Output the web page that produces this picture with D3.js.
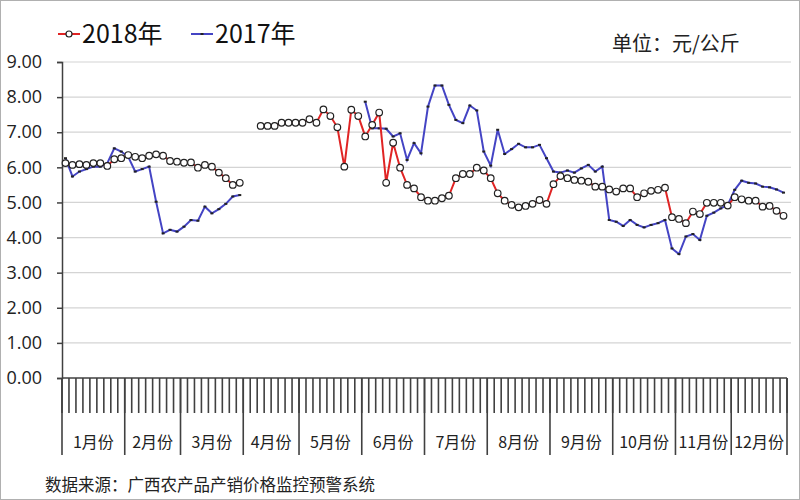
<!DOCTYPE html>
<html>
<head>
<meta charset="utf-8">
<script src="https://cdn.jsdelivr.net/npm/d3@7"></script>
<style>
  body { margin: 0; background: #fff; }
  svg { display: block; font-family: "Noto Sans CJK SC", "Noto Sans", sans-serif; }
</style>
</head>
<body>
<div id="chart"></div>
<script>
// month labels and how many categories each month has
const months = ['1月份', '2月份', '3月份', '4月份', '5月份', '6月份', '7月份', '8月份', '9月份', '10月份', '11月份', '12月份'];
const monthCounts = [9, 8, 9, 8, 9, 9, 9, 9, 9, 9, 8, 8];

const yTicks = [0, 1, 2, 3, 4, 5, 6, 7, 8, 9];

// 2018 series (null = no data)
const price2018 = [
  6.12, 6.07, 6.09, 6.07, 6.12, 6.12, 6.04, 6.23, 6.26, 6.35, 6.30, 6.26, 6.33, 6.37, 6.33, 6.18,
  6.16, 6.13, 6.14, 5.99, 6.07, 6.02, 5.85, 5.69, 5.50, 5.56,
  null, null,
  7.18, 7.18, 7.18, 7.27, 7.27, 7.27, 7.27, 7.37, 7.27, 7.65, 7.46, 7.14, 6.02, 7.64, 7.46, 6.88,
  7.21, 7.56, 5.56, 6.70, 5.99, 5.50, 5.40, 5.15, 5.05, 5.05, 5.12, 5.19, 5.69, 5.81, 5.81, 5.99,
  5.91, 5.69, 5.26, 5.05, 4.93, 4.86, 4.90, 4.96, 5.07,
  4.96, 5.52, 5.75, 5.69, 5.64, 5.62, 5.59, 5.45, 5.45, 5.37, 5.31, 5.40, 5.40, 5.15, 5.26, 5.33,
  5.36, 5.42, 4.58, 4.53, 4.41, 4.74, 4.67, 4.99, 4.99, 4.99, 4.91, 5.15, 5.09, 5.05, 5.05, 4.88,
  4.90, 4.76, 4.62
];

// 2017 series
const price2017 = [
  6.26, 5.74, 5.88, 5.95, 6.02, 6.02, 6.12, 6.54, 6.45, 6.30, 5.88, 5.95, 6.02, 5.02, 4.12, 4.22,
  4.17, 4.31, 4.50, 4.48, 4.88, 4.69, 4.81, 4.96, 5.17, 5.21,
  null, null, null, null, null, null, null, null, null, null, null, null, null, null, null, null, null,
  7.87, 7.11, 7.11, 7.10, 6.88, 6.97, 6.21, 6.69, 6.40, 7.73, 8.33, 8.33, 7.78, 7.35, 7.26, 7.76,
  7.62, 6.45, 6.05, 7.07, 6.38, 6.52, 6.67, 6.57, 6.57, 6.64, 6.26, 5.88, 5.85, 5.91, 5.85, 5.97,
  6.07, 5.88, 6.02, 4.50, 4.45, 4.33, 4.50, 4.36, 4.29, 4.36, 4.41, 4.50, 3.69, 3.53, 4.03, 4.10,
  3.93, 4.62, 4.71, 4.83, 4.93, 5.36, 5.62, 5.56, 5.54, 5.45, 5.43, 5.37, 5.28
];

const W = 800, H = 500;
const plotL = 62, plotR = 787, plotT = 62, plotB = 378;

// one category per data point, tagged with its month
const cats = [];
monthCounts.forEach((n, m) => { for (let k = 0; k < n; k++) cats.push(m + '-' + k); });

const svg = d3.select('#chart').append('svg')
  .attr('width', W)
  .attr('height', H);

svg.append('rect')
  .attr('x', 0.5).attr('y', 0.5)
  .attr('width', W - 1).attr('height', H - 1)
  .attr('fill', '#fff')
  .attr('stroke', '#b0b0b0');

const x = d3.scaleBand().domain(cats).range([plotL, plotR]).padding(0);
const y = d3.scaleLinear().domain([0, 9]).range([plotB, plotT]);
const step = x.step();

// gridlines
svg.append('g')
  .selectAll('line')
  .data(yTicks.filter(d => d > 0))
  .enter()
  .append('line')
  .attr('x1', plotL).attr('x2', plotR + 4)
  .attr('y1', d => y(d)).attr('y2', d => y(d))
  .attr('stroke', '#d4d4d4')
  .attr('stroke-width', 1.2);

// y axis
const yAxis = svg.append('g')
  .attr('transform', `translate(${plotL},0)`)
  .call(d3.axisLeft(y).tickValues(yTicks).tickFormat(d3.format('.2f')).tickSize(5).tickPadding(15));
yAxis.select('.domain').attr('stroke', '#404040').attr('stroke-width', 1.5);
yAxis.selectAll('.tick line').attr('stroke', '#404040').attr('stroke-width', 1.5);
yAxis.selectAll('.tick text')
  .attr('fill', '#222')
  .style('font-size', '18px')
  .style('font-family', '"Open Sans", "Noto Sans", sans-serif');

// x axis: baseline, category ticks, month separators
svg.append('line')
  .attr('x1', plotL).attr('x2', plotR)
  .attr('y1', plotB).attr('y2', plotB)
  .attr('stroke', '#404040').attr('stroke-width', 1.5);

svg.append('g')
  .selectAll('line')
  .data(d3.range(cats.length + 1))
  .enter()
  .append('line')
  .attr('x1', i => plotL + i * step).attr('x2', i => plotL + i * step)
  .attr('y1', plotB).attr('y2', 413)
  .attr('stroke', '#404040')
  .attr('stroke-width', 1.6);

const monthStart = d3.cumsum([0].concat(monthCounts));
svg.append('g')
  .selectAll('line')
  .data(monthStart)
  .enter()
  .append('line')
  .attr('x1', i => plotL + i * step).attr('x2', i => plotL + i * step)
  .attr('y1', plotB).attr('y2', 455)
  .attr('stroke', '#404040')
  .attr('stroke-width', 1.6);

svg.append('g')
  .selectAll('text')
  .data(months)
  .enter()
  .append('text')
  .attr('x', (d, m) => plotL + (monthStart[m] + monthCounts[m] / 2) * step)
  .attr('y', 448)
  .attr('text-anchor', 'middle')
  .attr('fill', '#222')
  .style('font-size', '16px')
  .text(d => d);

// lines
const line = d3.line()
  .defined(d => d != null)
  .x((d, i) => x(cats[i]) + step / 2)
  .y(d => y(d));

svg.append('path')
  .datum(price2017)
  .attr('fill', 'none')
  .attr('stroke', '#4444c4')
  .attr('stroke-width', 2)
  .attr('d', line);

svg.append('g')
  .selectAll('rect')
  .data(price2017.map((v, i) => ({ v, i })).filter(d => d.v != null))
  .enter()
  .append('rect')
  .attr('x', d => x(cats[d.i]) + step / 2 - 1.5)
  .attr('y', d => y(d.v) - 1)
  .attr('width', 3).attr('height', 2)
  .attr('fill', '#222');

svg.append('path')
  .datum(price2018)
  .attr('fill', 'none')
  .attr('stroke', '#e02424')
  .attr('stroke-width', 2)
  .attr('d', line);

svg.append('g')
  .selectAll('circle')
  .data(price2018.map((v, i) => ({ v, i })).filter(d => d.v != null))
  .enter()
  .append('circle')
  .attr('cx', d => x(cats[d.i]) + step / 2)
  .attr('cy', d => y(d.v))
  .attr('r', 3.3)
  .attr('fill', '#fff')
  .attr('stroke', '#222')
  .attr('stroke-width', 1.2);

// legend
const legend = svg.append('g');
legend.append('line')
  .attr('x1', 58).attr('x2', 80).attr('y1', 34).attr('y2', 34)
  .attr('stroke', '#e02424').attr('stroke-width', 2);
legend.append('circle')
  .attr('cx', 69).attr('cy', 34).attr('r', 3)
  .attr('fill', '#fff').attr('stroke', '#222').attr('stroke-width', 1.2);
legend.append('text')
  .attr('x', 82).attr('y', 43)
  .attr('fill', '#111')
  .style('font-size', '25px')
  .text('2018年');

legend.append('line')
  .attr('x1', 191).attr('x2', 213).attr('y1', 34).attr('y2', 34)
  .attr('stroke', '#4444c4').attr('stroke-width', 2);
legend.append('rect')
  .attr('x', 200.5).attr('y', 33).attr('width', 3).attr('height', 2)
  .attr('fill', '#222');
legend.append('text')
  .attr('x', 215).attr('y', 43)
  .attr('fill', '#111')
  .style('font-size', '25px')
  .text('2017年');

svg.append('text')
  .attr('x', 612).attr('y', 51)
  .attr('fill', '#222')
  .style('font-size', '20px')
  .text('单位：元/公斤');

svg.append('text')
  .attr('x', 45).attr('y', 491)
  .attr('fill', '#222')
  .style('font-size', '16.5px')
  .text('数据来源：广西农产品产销价格监控预警系统');
</script>
</body>
</html>
